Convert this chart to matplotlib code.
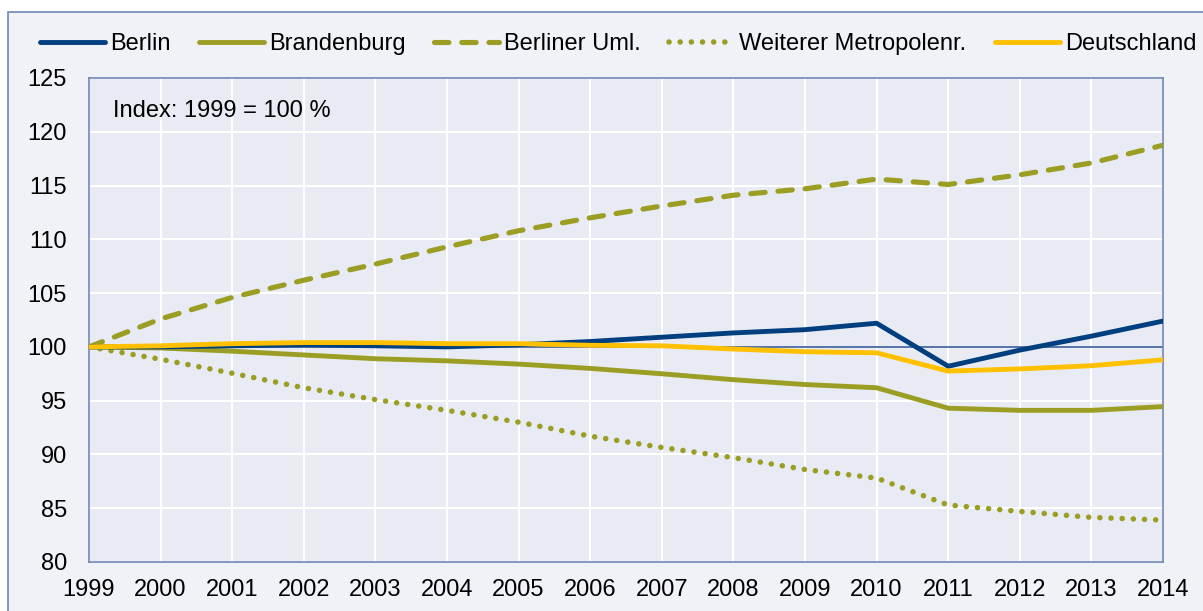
import matplotlib
matplotlib.use("Agg")
import matplotlib.pyplot as plt
from matplotlib.patches import Rectangle

plt.rcParams['font.family'] = ['Liberation Sans', 'DejaVu Sans']

years = list(range(1999, 2015))
berlin = [100, 100.0, 100.1, 100.2, 100.1, 100.0, 100.2, 100.5, 100.9, 101.3, 101.6, 102.2, 98.2, 99.7, 101.0, 102.4]
brandenburg = [100, 99.9, 99.6, 99.25, 98.9, 98.7, 98.4, 98.0, 97.5, 96.95, 96.5, 96.2, 94.3, 94.1, 94.1, 94.45]
berliner_uml = [100, 102.6, 104.6, 106.2, 107.7, 109.3, 110.8, 112.0, 113.1, 114.1, 114.7, 115.6, 115.1, 116.0, 117.1, 118.75]
weiterer = [100, 98.85, 97.55, 96.2, 95.1, 94.1, 93.0, 91.7, 90.65, 89.7, 88.6, 87.8, 85.3, 84.7, 84.15, 83.9]
deutschland = [100, 100.1, 100.3, 100.4, 100.4, 100.3, 100.3, 100.15, 100.1, 99.8, 99.55, 99.45, 97.75, 97.95, 98.25, 98.8]
yticks = [80, 85, 90, 95, 100, 105, 110, 115, 120, 125]

W, H = 1203, 611
FS = 17
fig = plt.figure(figsize=(W / 100, H / 100), dpi=100)
fig.patch.set_facecolor('white')
fig.patches.append(Rectangle((8 / W, -0.1), 1.2, (H - 12) / H + 0.1, transform=fig.transFigure,
                             facecolor='#F0F2F8', edgecolor='#6F88B8', linewidth=1.2, zorder=-10))

ax = fig.add_axes([89 / W, 1 - 562 / H, (1163 - 89) / W, (562 - 78) / H])
ax.set_facecolor('#E8EBF3')

olive = '#9B9E22'
ax.plot(years, [100] * len(years), color='#3A5A9A', lw=1.2, zorder=2)
ax.plot(years, weiterer, color=olive, lw=4.0, linestyle=(0, (0.01, 2.0)), dash_capstyle='round',
        label='Weiterer Metropolenr.', zorder=3)
ax.plot(years, berliner_uml, color=olive, lw=3.7, linestyle=(0, (2.8, 2.5)), dash_capstyle='round',
        label='Berliner Uml.', zorder=3)
ax.plot(years, brandenburg, color=olive, lw=3.5, solid_capstyle='round', label='Brandenburg', zorder=4)
ax.plot(years, berlin, color='#003F7F', lw=3.5, solid_capstyle='round', label='Berlin', zorder=5)
ax.plot(years, deutschland, color='#FFC000', lw=3.5, solid_capstyle='round', label='Deutschland', zorder=6)

ax.set_xlim(1999, 2014)
ax.set_ylim(80, 125)
ax.set_xticks(years)
ax.set_yticks(yticks)
ax.grid(True, color='white', lw=1.5)
ax.set_axisbelow(True)
ax.tick_params(length=0, labelsize=FS)
ax.tick_params(axis='x', pad=12)
ax.tick_params(axis='y', pad=16)
for s in ax.spines.values():
    s.set_color('#6F88B8')
    s.set_linewidth(1.2)

fig.text(113 / W, 1 - 117 / H, 'Index: 1999 = 100 %', fontsize=FS, va='baseline', ha='left')

handles, labels = ax.get_legend_handles_labels()
order = ['Berlin', 'Brandenburg', 'Berliner Uml.', 'Weiterer Metropolenr.', 'Deutschland']
hmap = dict(zip(labels, handles))
fig.legend([hmap[k] for k in order], order, loc='center left', bbox_to_anchor=(40 / W, 1 - 44 / H),
           ncol=5, frameon=False, fontsize=FS, handlelength=2.75, handletextpad=0.22,
           columnspacing=1.2, borderpad=0, borderaxespad=0)

fig.savefig('out.png', dpi=100)
